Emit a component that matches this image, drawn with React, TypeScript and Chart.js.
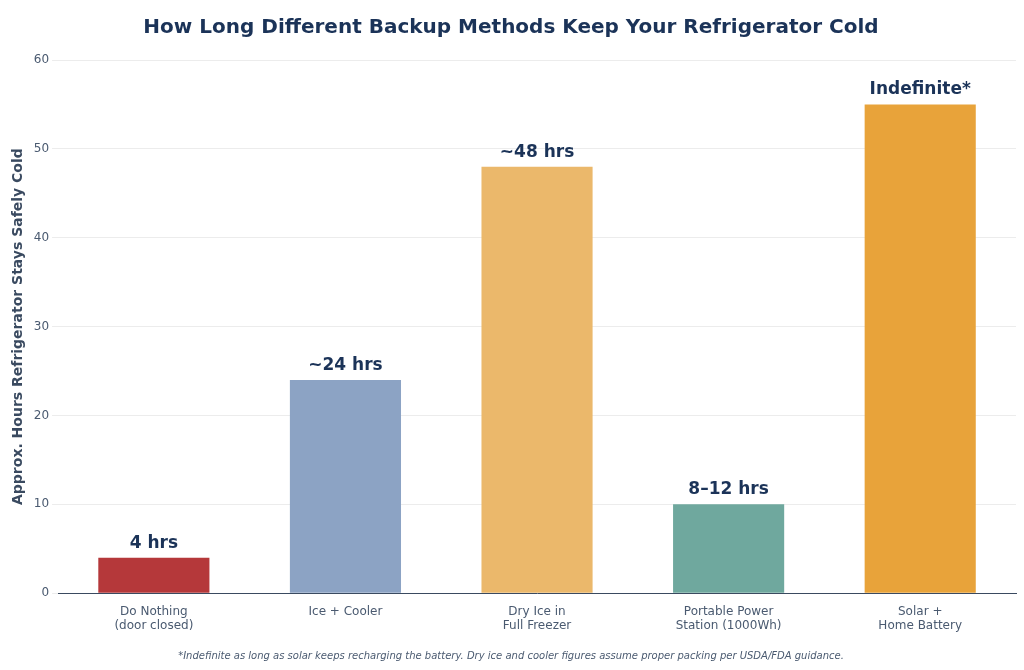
import React, { useEffect, useRef } from "react";
import { Chart, registerables } from "chart.js";
Chart.register(...registerables);

const categories = [["Do Nothing", "(door closed)"], ["Ice + Cooler"], ["Dry Ice in", "Full Freezer"], ["Portable Power", "Station (1000Wh)"], ["Solar +", "Home Battery"]];
const hours = [4, 24, 48, 10, 55];
const barLabels = ["4 hrs", "~24 hrs", "~48 hrs", "8–12 hrs", "Indefinite*"];
const colors = ["#b5383a", "#8ca3c4", "#ebb86b", "#6fa89e", "#e8a33a"];

const labelPlugin = {
  id: "barLabels",
  afterDatasetsDraw(chart: any) {
    const ctx = chart.ctx;
    const meta = chart.getDatasetMeta(0);
    ctx.save();
    ctx.font = "bold 17px 'DejaVu Sans'";
    ctx.fillStyle = "#1b3358";
    ctx.textAlign = "center";
    ctx.textBaseline = "bottom";
    meta.data.forEach((el: any, i: number) => ctx.fillText(barLabels[i], el.x, el.y - 6));
    ctx.restore();
  },
};

export default function App() {
  const ref = useRef<HTMLCanvasElement>(null);
  useEffect(() => {
    document.body.style.margin = "0";
    const chart = new Chart(ref.current!, {
      type: "bar",
      data: { labels: categories as any, datasets: [{ data: hours, backgroundColor: colors, barPercentage: 0.58, categoryPercentage: 1 }] },
      options: {
        animation: false,
        responsive: false,
        layout: { padding: { left: 6, right: 8, top: 10, bottom: 0 } },
        plugins: {
          legend: { display: false },
          tooltip: { enabled: false },
          title: { display: true, text: "How Long Different Backup Methods Keep Your Refrigerator Cold", color: "#1b3358", font: { family: "DejaVu Sans", size: 20, weight: "bold" }, padding: { top: 6, bottom: 20 } },
          subtitle: { display: true, position: "bottom", text: "*Indefinite as long as solar keeps recharging the battery. Dry ice and cooler figures assume proper packing per USDA/FDA guidance.", color: "#4a5a70", font: { family: "DejaVu Sans", size: 10, style: "italic" }, padding: { top: 14, bottom: 8 } },
        },
        scales: {
          x: {
            grid: { display: false },
            border: { color: "#3a4a60" },
            ticks: { color: "#4a5a70", font: { family: "DejaVu Sans", size: 12 } },
          },
          y: {
            min: 0, max: 60,
            ticks: { stepSize: 10, color: "#4a5a70", font: { family: "DejaVu Sans", size: 12 } },
            grid: { color: "#ececec", tickLength: 6 },
            border: { display: false },
            title: { display: true, text: "Approx. Hours Refrigerator Stays Safely Cold", color: "#3a4a60", font: { family: "DejaVu Sans", size: 14, weight: "bold" } },
          },
        },
      },
      plugins: [labelPlugin],
    });
    return () => chart.destroy();
  }, []);
  return <canvas ref={ref} width={1024} height={670} style={{ display: "block" }} />;
}
